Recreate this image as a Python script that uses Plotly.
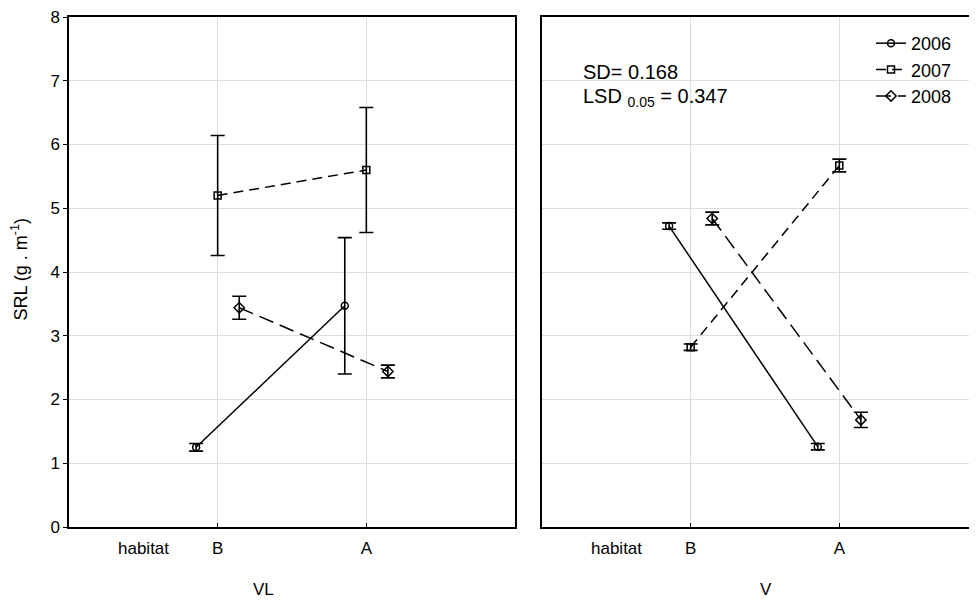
import plotly.graph_objects as go

# ---- data ----
habitats = ["B", "A"]
years = ["2006", "2007", "2008"]

vl_means = {"2006": [1.25, 3.47], "2007": [5.20, 5.60], "2008": [3.44, 2.44]}
vl_errs = {"2006": [0.06, 1.07], "2007": [0.94, 0.98], "2008": [0.18, 0.10]}

v_means = {"2006": [4.72, 1.26], "2007": [2.82, 5.67], "2008": [4.84, 1.68]}
v_errs = {"2006": [0.05, 0.05], "2007": [0.05, 0.10], "2008": [0.10, 0.12]}

panel_names = ["VL", "V"]
y_ticks = [0, 1, 2, 3, 4, 5, 6, 7, 8]

# ---- style ----
offsets = {"2006": -0.145, "2007": 0.0, "2008": 0.145}
symbols = {"2006": "circle-open", "2007": "square-open", "2008": "diamond-open"}
msizes = {"2006": 7, "2007": 7, "2008": 8}
dashes = {"2006": "solid", "2007": "10px,6px", "2008": "15px,7px"}
FONT = "Liberation Sans, Arial, sans-serif"

fig = go.Figure()
base_x = list(range(len(habitats)))

for p, (means, errs) in enumerate([(vl_means, vl_errs), (v_means, v_errs)]):
    xa = "x" if p == 0 else "x2"
    ya = "y" if p == 0 else "y2"
    for yr in years:
        xs = [b + offsets[yr] for b in base_x]
        fig.add_trace(go.Scatter(
            x=xs, y=means[yr], xaxis=xa, yaxis=ya,
            mode="lines+markers", name=yr, showlegend=(p == 1),
            line=dict(color="black", width=1.5, dash=dashes[yr]),
            marker=dict(symbol=symbols[yr], size=msizes[yr], color="black",
                        line=dict(color="black", width=1.5)),
            error_y=dict(type="data", array=errs[yr], visible=True,
                         color="black", thickness=1.6, width=7),
        ))

# page has an 8px body margin: work in page pixels, shift by OFF
OFF = 8
W, H = 977 - OFF, 601 - OFF
X0, X1, X2, X3 = 69, 515, 542, 977     # page px of panel edges
Y8, Y0 = 14, 527                        # page px of y=8 and y=0
L, R, T, B = X0 - OFF, 0, Y8 - OFF, H - (Y0 - OFF)
pw = W - L - R
ph = Y0 - Y8
d1 = [0, (X1 - X0) / pw]
d2 = [(X2 - X0) / pw, 1]
unit = (X1 - X0) / 3.0
r2 = [-1, -1 + (X3 - X2) / unit]

TICKF = dict(family=FONT, size=17, color="black")
common_x = dict(tickvals=base_x, ticktext=habitats, ticks="inside", ticklen=4,
                tickcolor="black", showgrid=True, gridcolor="#dcdcdc", gridwidth=1,
                zeroline=False, showline=True, linecolor="black", linewidth=1.5,
                mirror=True, tickfont=TICKF, ticklabelstandoff=5)
common_y = dict(range=[0, 8], tickvals=y_ticks, showgrid=True, gridcolor="#dcdcdc",
                gridwidth=1, zeroline=False, showline=True, linecolor="black",
                linewidth=1.5)

def yp(py):
    return (Y0 - py) / ph

fig.update_layout(
    width=W, height=H, margin=dict(l=L, r=R, t=T, b=B, pad=0),
    paper_bgcolor="white", plot_bgcolor="white",
    font=dict(family=FONT, size=17, color="black"),
    xaxis=dict(domain=d1, range=[-1, 2], anchor="y", **common_x),
    xaxis2=dict(domain=d2, range=r2, anchor="y2", **common_x),
    yaxis=dict(domain=[0, 1], anchor="x", ticks="outside", ticklen=4, tickcolor="black",
               mirror=True, tickfont=TICKF, ticklabeloverflow="allow", **common_y),
    yaxis2=dict(domain=[0, 1], anchor="x2", showticklabels=False, ticks="", mirror=False,
                **common_y),
    showlegend=True,
    legend=dict(x=(871 - X0) / pw, y=yp(22), xanchor="left", yanchor="top",
                bgcolor="rgba(0,0,0,0)", font=dict(family=FONT, size=18, color="black"),
                itemwidth=30, tracegroupgap=0),
)

ann = []
for p, nm in enumerate(panel_names):
    xr = "x" if p == 0 else "x2"
    ann.append(dict(x=-0.5, y=yp(549), xref=xr, yref="paper", text="habitat",
                    xanchor="center", yanchor="middle", showarrow=False,
                    font=dict(family=FONT, size=17)))
ann.append(dict(x=0.31, y=yp(590), xref="x", yref="paper", text="VL",
                xanchor="center", yanchor="middle", showarrow=False,
                font=dict(family=FONT, size=17)))
ann.append(dict(x=0.51, y=yp(590), xref="x2", yref="paper", text="V",
                xanchor="center", yanchor="middle", showarrow=False,
                font=dict(family=FONT, size=17)))
ann.append(dict(x=(20 - X0) / pw, y=yp(268), xref="paper", yref="paper",
                xanchor="center", yanchor="middle",
                text="SRL (g . m<sup>-1</sup>)", textangle=-90, showarrow=False,
                font=dict(family=FONT, size=18)))
ann.append(dict(x=-0.735, y=7.13, xref="x2", yref="y2", xanchor="left", yanchor="middle",
                text="SD= 0.168", showarrow=False, font=dict(family=FONT, size=20)))
ann.append(dict(x=-0.735, y=6.74, xref="x2", yref="y2", xanchor="left", yanchor="middle",
                text="LSD <sub>0.05</sub> = 0.347", showarrow=False,
                font=dict(family=FONT, size=20)))
fig.update_layout(annotations=ann)

fig.write_html("out.html")
